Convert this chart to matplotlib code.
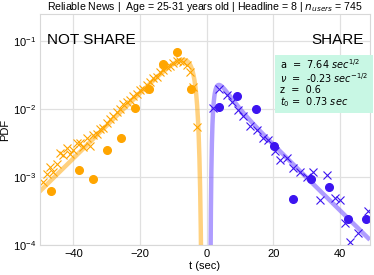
import numpy as np
import matplotlib
matplotlib.use("Agg")
import matplotlib.pyplot as plt

# fitted DDM parameters (shown in the box)
a_par = 7.64
v_par = -0.23
z_par = 0.6
t0_par = 0.73

# NOT SHARE (plotted at negative times)
ns_cross_t = list(range(-49, -2))
ns_cross_pdf = [8.5e-4, 1.12e-3, 1.41e-3, 1.20e-3, 1.58e-3, 2.24e-3, 2.09e-3, 2.63e-3,
                2.19e-3, 2.51e-3, 3.16e-3, 3.16e-3, 2.75e-3, 3.72e-3, 2.82e-3, 4.17e-3,
                4.37e-3, 5.01e-3, 5.25e-3, 6.17e-3, 7.24e-3, 7.94e-3, 8.91e-3, 1.00e-2,
                1.17e-2, 1.26e-2, 1.38e-2, 1.58e-2, 1.66e-2, 1.91e-2, 2.00e-2, 2.24e-2,
                2.51e-2, 2.82e-2, 2.95e-2, 3.47e-2, 3.80e-2, 4.17e-2, 4.37e-2, 4.68e-2,
                5.01e-2, 5.13e-2, 4.90e-2, 4.47e-2, 3.55e-2, 2.14e-2, 5.37e-3]
ns_dot_t = [-46.7, -38.3, -34.1, -29.9, -25.7, -21.5, -17.3, -13.1, -8.9, -4.7]
ns_dot_pdf = [6.2e-4, 1.26e-3, 9.5e-4, 2.5e-3, 3.8e-3, 1.05e-2, 1.95e-2, 4.6e-2, 6.9e-2, 2.0e-2]

# SHARE
sh_cross_t = [1.9, 3.8, 6.0, 7.6, 9.5, 11.0, 13.0, 15.0, 17.0, 18.5, 20.5, 22.0, 24.0,
              26.0, 28.0, 30.0, 32.0, 34.0, 36.0, 38.5, 40.0, 41.5, 43.0, 45.5, 48.5]
sh_cross_pdf = [1.02e-2, 1.95e-2, 1.62e-2, 1.29e-2, 9.8e-3, 7.8e-3, 5.6e-3, 4.9e-3,
                3.7e-3, 3.5e-3, 2.4e-3, 1.78e-3, 1.91e-3, 1.35e-3, 1.20e-3, 1.0e-3,
                1.2e-3, 4.6e-4, 1.07e-3, 4.9e-4, 4.6e-4, 2.1e-4, 1.12e-4, 1.51e-4, 3.2e-4]
sh_dot_t = [3.8, 9.2, 14.8, 20.3, 25.8, 31.3, 36.8, 42.3, 47.8]
sh_dot_pdf = [1.07e-2, 1.58e-2, 1.0e-2, 2.9e-3, 4.8e-4, 9.5e-4, 7.2e-4, 2.4e-4, 2.4e-4]


def wiener_lower(t, v, a, w, nterms=400):
    """first passage density at the lower boundary (large-time series)"""
    t = np.asarray(t, dtype=float)
    out = np.zeros_like(t)
    ok = t > 0
    tt = t[ok][:, None]
    k = np.arange(1, nterms + 1)[None, :]
    s = np.sum(k * np.exp(-k**2 * np.pi**2 * tt / (2 * a**2)) * np.sin(k * np.pi * w), axis=1)
    out[ok] = np.pi / a**2 * np.exp(-v * a * w - v**2 * tt[:, 0] / 2) * s
    return np.clip(out, 0, None)


td = np.linspace(0.001, 52, 3000)
f_ns = wiener_lower(td, v_par, a_par, z_par)
f_sh = wiener_lower(td, -v_par, a_par, 1 - z_par)
t_plot = td + t0_par

plt.rcParams['font.family'] = ['Liberation Sans', 'DejaVu Sans']
fig = plt.figure(figsize=(3.74, 2.75), dpi=100)
ax = fig.add_axes([0.107, 0.109, 0.882, 0.84])

orange = '#ffa500'
purple = '#3c14f0'

ax.plot(-t_plot, f_ns, color=orange, alpha=0.5, lw=3.2, solid_capstyle='butt')
ax.plot(t_plot, f_sh, color='#7b5cff', alpha=0.6, lw=3.2, solid_capstyle='butt')
ax.plot(ns_cross_t, ns_cross_pdf, 'x', color=orange, ms=6, mew=0.8)
ax.plot(ns_dot_t, ns_dot_pdf, 'o', color=orange, ms=5.5)
ax.plot(sh_cross_t, sh_cross_pdf, 'x', color=purple, ms=6, mew=0.8)
ax.plot(sh_dot_t, sh_dot_pdf, 'o', color=purple, ms=5.5)

ax.set_yscale('log')
ax.set_ylim(1e-4, 0.25)
ax.set_xlim(-50, 49)
ax.set_xticks([-40, -20, 0, 20, 40])
ax.set_yticks([1e-4, 1e-3, 1e-2, 1e-1])
ax.yaxis.set_minor_locator(matplotlib.ticker.NullLocator())
ax.grid(True, color='#e0e0e0', lw=0.9)
ax.set_axisbelow(True)
ax.tick_params(length=0, labelsize=8, pad=3)
for sp in ax.spines.values():
    sp.set_color('#d8d8d8')

ax.set_xlabel('t (sec)', fontsize=8, labelpad=1)
ax.set_ylabel('PDF', fontsize=8, labelpad=2)
ax.set_title(r'Reliable News |  Age = 25-31 years old | Headline = 8 | $n_{users}$ = 745',
             fontsize=7.6, pad=2)

ax.text(0.02, 0.92, 'NOT SHARE', transform=ax.transAxes, fontsize=11, va='top', ha='left')
ax.text(0.98, 0.92, 'SHARE', transform=ax.transAxes, fontsize=11, va='top', ha='right')

box_txt = ("a  =  7.64 $sec^{1/2}$\n"
           "$\\nu$  =  -0.23 $sec^{-1/2}$\n"
           "z  =  0.6\n"
           "$t_0$ =  0.73 $sec$")
ax.text(0.727, 0.812, box_txt, transform=ax.transAxes, fontsize=7.0, va='top', ha='left',
        family='DejaVu Sans', linespacing=1.0,
        bbox=dict(boxstyle='square,pad=0.45', fc='#c8f7e4', ec='none'))

fig.savefig('out.png', dpi=100)
